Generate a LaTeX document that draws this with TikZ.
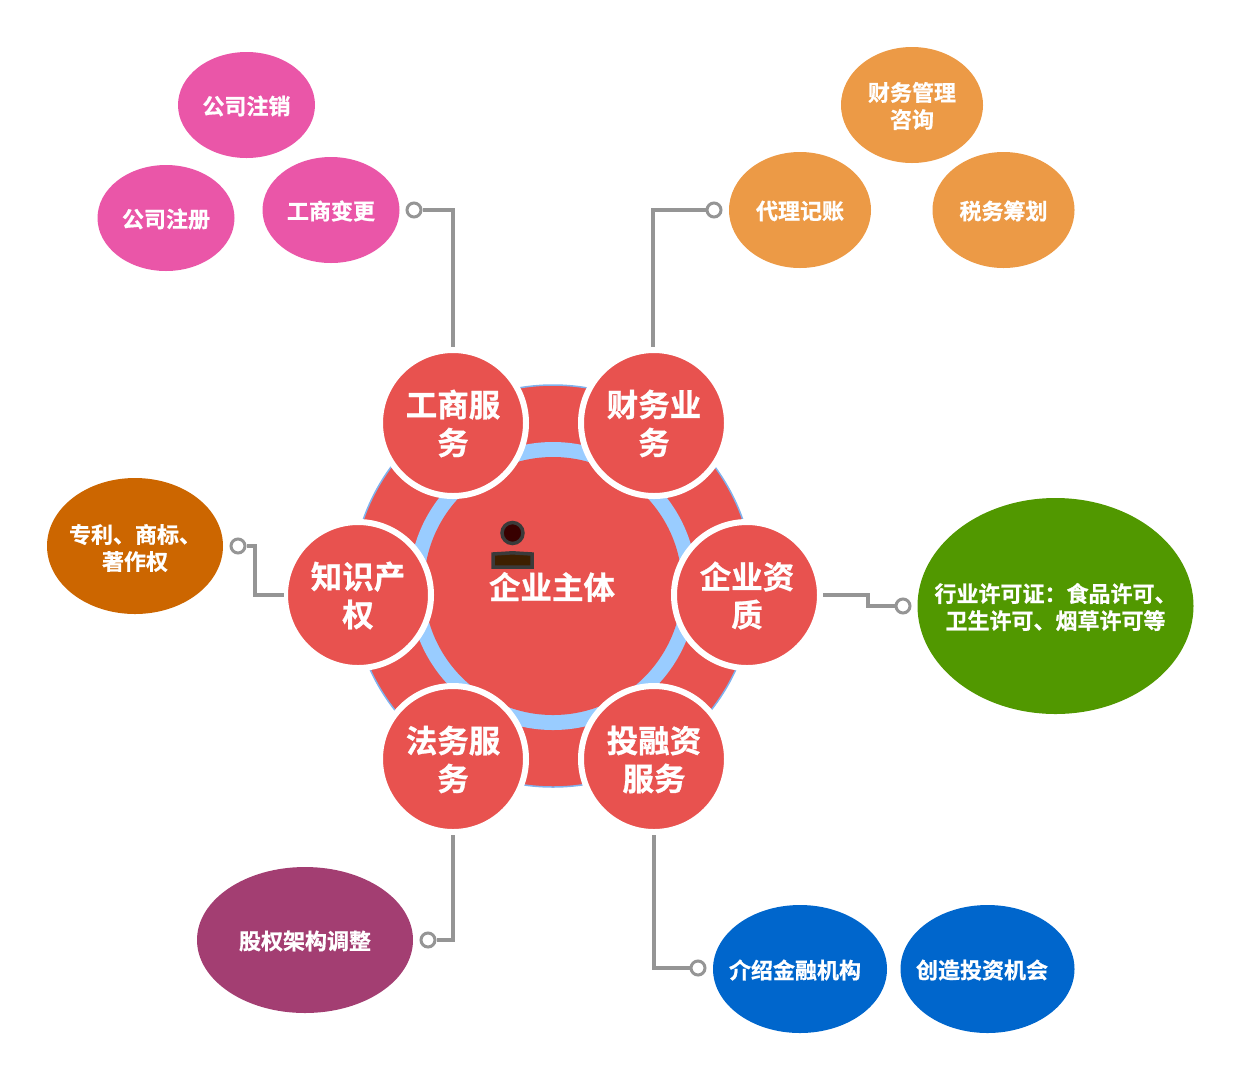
\documentclass[tikz,border=0pt]{standalone}
\usepackage{fontspec}
\setmainfont{Noto Sans CJK SC}[BoldFont={Noto Sans CJK SC Bold},BoldFeatures={FakeBold=0.8}]
\usetikzlibrary{shapes.geometric}
\definecolor{hubred}{HTML}{E8524F}
\definecolor{ringblue}{HTML}{99CCFF}
\definecolor{edgeblue}{HTML}{7FB2EE}
\definecolor{pinkc}{HTML}{EA56A8}
\definecolor{orangec}{HTML}{EC9A46}
\definecolor{greenc}{HTML}{519800}
\definecolor{amberc}{HTML}{CC6600}
\definecolor{purplec}{HTML}{A33E72}
\definecolor{bluec}{HTML}{0066CC}
\definecolor{linec}{HTML}{959595}
\definecolor{iconline}{HTML}{3A3A3A}
\definecolor{headfill}{HTML}{380000}
\definecolor{bodyfill}{HTML}{3D1F00}
\tikzset{
  x=1pt,y=-1pt,
  disc/.style={circle,inner sep=0pt,minimum size=#1},
  bigtext/.style={text=white,align=center,font=\fontsize{31.5}{38}\selectfont\bfseries},
  smalltext/.style={text=white,align=center,font=\fontsize{22}{27}\selectfont\bfseries},
  petal/.style={disc=146pt,fill=hubred,draw=white,line width=6pt},
  leaf/.style 2 args={ellipse,inner sep=0pt,draw=none,minimum width=#1pt,minimum height=#2pt},
  pin/.style={disc=14pt,fill=white,draw=linec,line width=3pt},
  link/.style={draw=linec,line width=3.4pt,line join=miter}
}
\begin{document}
\begin{tikzpicture}
\useasboundingbox (0,0) rectangle (1241,1080);
% hub
\node[disc=402pt,fill=hubred,draw=edgeblue,line width=1.5pt] (outer) at (553,586) {};
\node[disc=288pt,fill=ringblue] (ring) at (553,586) {};
\node[disc=258pt,fill=hubred] (core) at (553,586) {};
\node[bigtext] (coretext) at (552,587) {企业主体};
% icon
\node[disc=21pt,fill=headfill,draw=iconline,line width=3.5pt] (head) at (512.5,533) {};
\filldraw[fill=bodyfill,draw=iconline,line width=3.5pt] (493,567) -- (493,554) -- (512.5,552.8) -- (532,554) -- (532,567) -- cycle;
% petals
\node[petal,label={[bigtext,name=gst,yshift=-0.5pt]center:工商服\\务}] (gs) at (453,423) {};
\node[petal,label={[bigtext,name=cwt,yshift=-0.5pt]center:财务业\\务}] (cw) at (654,423) {};
\node[petal,label={[bigtext,name=zst,yshift=-0.5pt]center:知识产\\权}] (zs) at (358,595) {};
\node[petal,label={[bigtext,name=zzt,yshift=-0.5pt]center:企业资\\质}] (zz) at (747,595) {};
\node[petal,label={[bigtext,name=fwt,yshift=-0.5pt]center:法务服\\务}] (fw) at (453,759) {};
\node[petal,label={[bigtext,name=trt,yshift=-0.5pt]center:投融资\\服务}] (tr) at (654,759) {};
% leaves
\node[leaf={137}{106},fill=pinkc,label={[smalltext,name=l1t,yshift=-1pt]center:公司注销}] (l1) at (246.5,105) {};
\node[leaf={137}{106},fill=pinkc,label={[smalltext,name=l2t,yshift=-1pt]center:公司注册}] (l2) at (166,218) {};
\node[leaf={137}{106},fill=pinkc,label={[smalltext,name=l3t,yshift=-1pt]center:工商变更}] (l3) at (331,210) {};
\node[leaf={142}{116},fill=orangec,label={[smalltext,name=l4t,yshift=-1pt]center:财务管理\\咨询}] (l4) at (912,105) {};
\node[leaf={142}{116},fill=orangec,label={[smalltext,name=l5t,yshift=-1pt]center:代理记账}] (l5) at (800,210) {};
\node[leaf={142}{116},fill=orangec,label={[smalltext,name=l6t,yshift=-1pt]center:税务筹划}] (l6) at (1003.5,210) {};
\node[leaf={176}{136},fill=amberc,label={[smalltext,name=l7t,yshift=-2pt]center:专利、商标、\\著作权}] (l7) at (135,546) {};
\node[leaf={276}{216},fill=greenc,label={[smalltext,name=l8t,yshift=-1pt]center:行业许可证：食品许可、\\卫生许可、烟草许可等}] (l8) at (1055.5,606) {};
\node[leaf={216}{146},fill=purplec,label={[smalltext,name=l9t,yshift=-1pt]center:股权架构调整}] (l9) at (305,940) {};
\node[leaf={174}{128},fill=bluec,label={[smalltext,name=l10t,xshift=-5pt,yshift=-1pt]center:介绍金融机构}] (l10) at (800,969) {};
\node[leaf={174}{128},fill=bluec,label={[smalltext,name=l11t,xshift=-5.5pt,yshift=-1pt]center:创造投资机会}] (l11) at (987.5,969) {};
% pins and connectors
\node[pin] (p1) at (414,210) {};
\node[pin] (p2) at (714,210) {};
\node[pin] (p3) at (238,546) {};
\node[pin] (p4) at (903,606) {};
\node[pin] (p5) at (428,940) {};
\node[pin] (p6) at (698,968) {};
\coordinate (e1) at (453,347);
\coordinate (e2) at (653,347);
\coordinate (e3) at (284,595);
\coordinate (e4) at (823,595);
\coordinate (e5) at (453,835);
\coordinate (e6) at (654,835);
\coordinate (m3) at (255,570);
\coordinate (m4) at (868,600);
\draw[link] (p1) -| (e1);
\draw[link] (p2) -| (e2);
\draw[link] (p3) -| (m3) |- (e3);
\draw[link] (e4) -| (m4) |- (p4);
\draw[link] (p5) -| (e5);
\draw[link] (p6) -| (e6);
\end{tikzpicture}
\end{document}
